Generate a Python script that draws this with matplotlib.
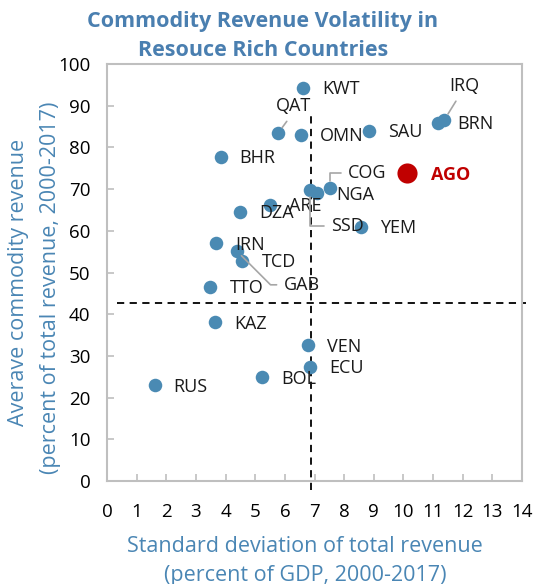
import matplotlib
matplotlib.use("Agg")
import matplotlib.pyplot as plt

plt.rcParams['font.family'] = ['Open Sans', 'DejaVu Sans']

# data
countries = ['KWT', 'QAT', 'OMN', 'BHR', 'DZA', 'ARE', 'SSD', 'NGA', 'COG', 'SAU',
             'BRN', 'IRQ', 'YEM', 'IRN', 'GAB', 'TCD', 'TTO', 'KAZ', 'VEN', 'ECU',
             'BOL', 'RUS']
std_dev = [6.61, 5.77, 6.55, 3.83, 4.50, 5.49, 6.86, 7.08, 7.53, 8.83,
           11.16, 11.38, 8.57, 3.69, 4.37, 4.57, 3.49, 3.65, 6.79, 6.84,
           5.24, 1.61]
commodity_share = [94.3, 83.4, 83.0, 77.8, 64.6, 66.2, 69.8, 69.0, 70.2, 84.0,
                   85.9, 86.6, 61.0, 57.0, 55.2, 52.8, 46.6, 38.1, 32.5, 27.4,
                   24.9, 23.0]
ago_std = 10.12
ago_share = 73.8
avg_std = 6.87
avg_share = 42.8

blue = '#4a8ab3'
red = '#c00000'
grey = '#bfbfbf'

fig = plt.figure(figsize=(5.39, 5.84), dpi=100)
ax = fig.add_axes([107/539, 1-481/584, 415/539, 417/584])

ax.scatter(std_dev, commodity_share, s=95, color=blue, zorder=3, linewidths=0)
ax.scatter([ago_std], [ago_share], s=210, color=red, zorder=3, linewidths=0)

# average lines
ax.plot([avg_std, avg_std], [-2.2, 87.5], ls=(0, (4, 3)), color='black', lw=1.3, clip_on=False, zorder=2)
ax.plot([0.33, 14.15], [avg_share, avg_share], ls=(0, (4, 3)), color='black', lw=1.3, clip_on=False, zorder=2)

# label placement in pixels (dx, dy)
default_off = (19, -1.5)
offsets = {'QAT': (15, 25), 'IRQ': (20, 32), 'SSD': (21, -36), 'COG': (18, 15), 'GAB': (47, -34)}
leaders = {
    'QAT': dict(relpos=(0.45, 0.0), connectionstyle='arc3'),
    'IRQ': dict(relpos=(0.35, 0.0), connectionstyle='arc3'),
    'SSD': dict(relpos=(0.0, 0.5), connectionstyle='angle,angleA=0,angleB=90,rad=0'),
    'COG': dict(relpos=(0.0, 0.5), connectionstyle='angle,angleA=0,angleB=90,rad=0'),
    'GAB': dict(relpos=(0.0, 0.5), connectionstyle='angle,angleA=0,angleB=-45,rad=0'),
}

for name, x, y in zip(countries, std_dev, commodity_share):
    dx, dy = offsets.get(name, default_off)
    if name in leaders:
        ha = 'center' if name in ('QAT', 'IRQ') else 'left'
        va = 'bottom' if name in ('QAT', 'IRQ') else 'center'
        props = dict(arrowstyle='-', color='#a6a6a6', lw=1.2, shrinkA=3, shrinkB=5)
        props.update(leaders[name])
        ax.annotate(name, (x, y), xytext=(dx, dy - 7 if va == 'bottom' else dy),
                    textcoords='offset pixels', ha=ha, va=va, fontsize=13,
                    color='#1a1a1a', arrowprops=props, zorder=4)
    else:
        ax.annotate(name, (x, y), xytext=(dx, dy), textcoords='offset pixels',
                    ha='left', va='center', fontsize=13, color='#1a1a1a', zorder=4)

ax.annotate('AGO', (ago_std, ago_share), xytext=(24, -2), textcoords='offset pixels',
            ha='left', va='center', fontsize=13, color=red, fontweight='bold')

ax.set_xlim(0, 14)
ax.set_ylim(0, 100)
ax.set_xticks(range(0, 15))
ax.set_yticks(range(0, 101, 10))
for s in ax.spines.values():
    s.set_color(grey)
    s.set_linewidth(1.5)
ax.tick_params(axis='both', direction='in', length=5, color=grey, width=1.2,
               labelsize=13.5, labelcolor='black')
ax.tick_params(axis='x', pad=16)
ax.tick_params(axis='y', pad=12)

axis_blue = '#4a86b4'
fig.text(305/539, 1-546/584, 'Standard deviation of total revenue', ha='center', va='center',
         fontsize=15.5, color=axis_blue)
fig.text(305/539, 1-575/584, '(percent of GDP, 2000-2017)', ha='center', va='center',
         fontsize=15.5, color=axis_blue)
fig.text(19/539, 1-282/584, 'Averave commodity revenue', rotation=90, ha='center', va='center',
         fontsize=15.5, color=axis_blue)
fig.text(51/539, 1-288/584, '(percent of total revenue, 2000-2017)', rotation=90, ha='center',
         va='center', fontsize=15.5, color=axis_blue)

title_blue = '#4a7fb0'
fig.text(263/539, 1-22/584, 'Commodity Revenue Volatility in', ha='center', va='center',
         fontsize=15.5, fontweight='bold', color=title_blue)
fig.text(263/539, 1-50/584, 'Resouce Rich Countries', ha='center', va='center',
         fontsize=15.5, fontweight='bold', color=title_blue)

fig.savefig('out.png', dpi=100)
